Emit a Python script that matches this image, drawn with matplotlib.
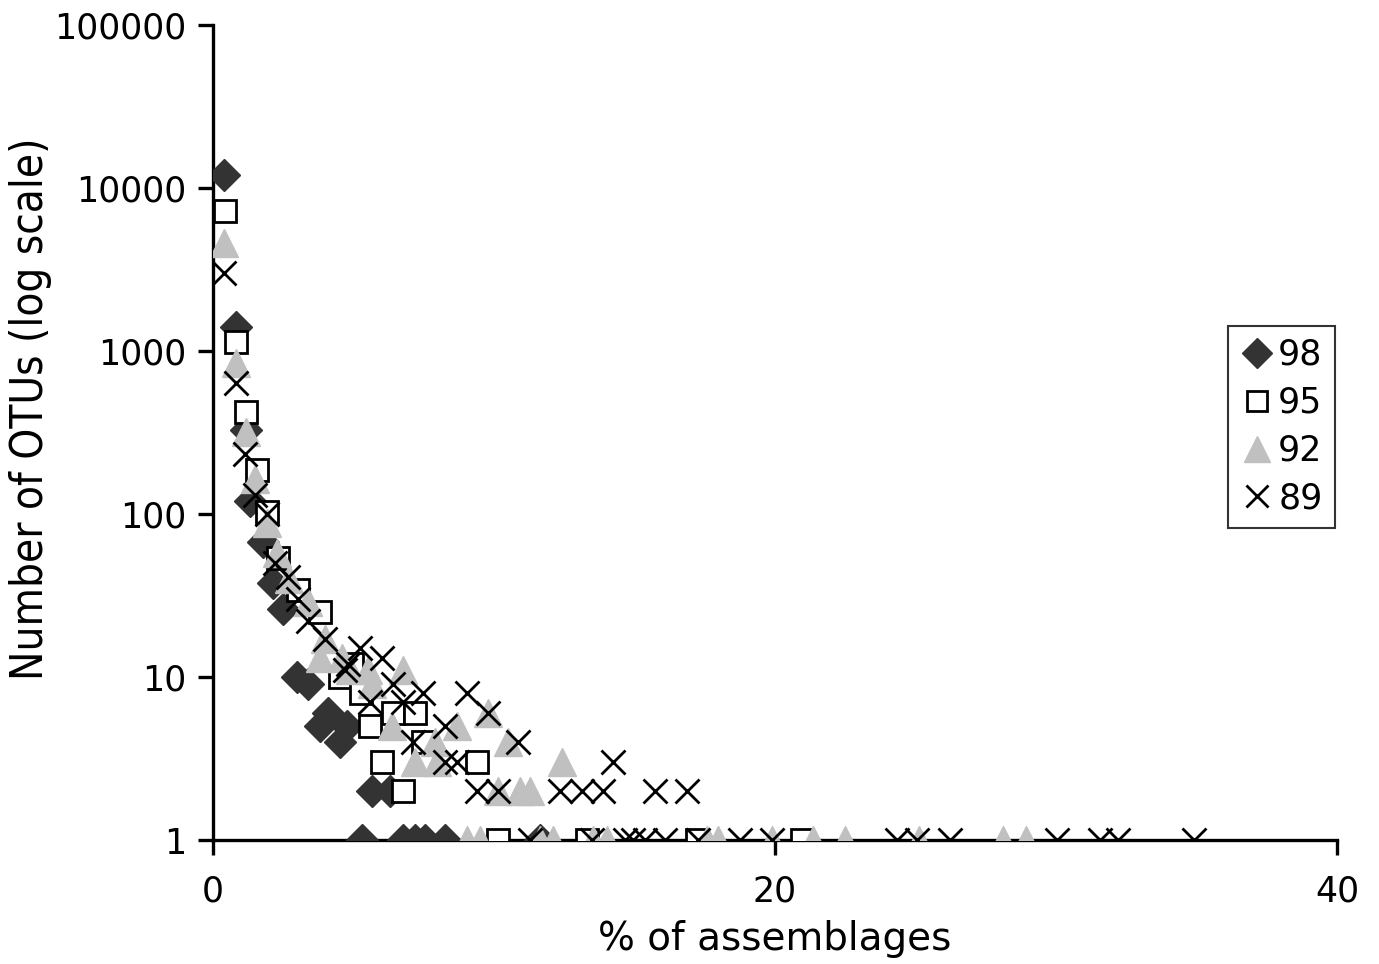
import matplotlib
matplotlib.use("Agg")
import matplotlib.pyplot as plt
from matplotlib import font_manager
from matplotlib.ticker import FixedLocator, NullLocator

# % of assemblages (x) and number of OTUs (y) per similarity cutoff
x_98 = [0.39, 0.82, 1.17, 1.32, 1.78, 2.14, 2.49, 2.99, 3.38, 3.81, 4.09, 4.52, 4.77,
        5.66, 6.30, 5.30, 6.76, 7.19, 7.54, 8.26, 11.64]
y_98 = [12000, 1400, 330, 120, 67, 38, 26, 10, 9, 5, 6, 4, 5,
        2, 2, 1, 1, 1, 1, 1, 1]

x_95 = [0.43, 0.82, 1.17, 1.57, 1.92, 2.31, 3.02, 3.81, 4.52, 4.95, 5.25, 5.59, 6.41,
        7.19, 6.01, 6.76, 7.47, 9.40, 10.14, 13.31, 17.22, 20.96]
y_95 = [7200, 1140, 420, 185, 103, 54, 34, 25, 10, 12, 8, 5, 6,
        6, 3, 2, 4, 3, 1, 1, 1, 1]

x_92 = [0.39, 0.82, 1.17, 1.50, 1.92, 2.28, 2.70, 3.38, 3.99, 3.81, 4.60, 4.88, 5.52,
        6.76, 5.66, 6.37, 7.90, 8.68, 9.79, 10.50, 12.42, 7.19, 7.97, 10.14, 10.93,
        11.28, 9.04, 9.50, 11.64, 12.10, 13.52, 14.02, 17.58, 17.97, 19.89, 21.35,
        22.49, 25.12, 28.11, 28.93]
y_92 = [4600, 840, 320, 165, 88, 58, 40, 29, 17, 13, 13, 11, 11,
        11, 9, 5, 4, 5, 6, 4, 3, 3, 3, 2, 2,
        2, 1, 1, 1, 1, 1, 1, 1, 1, 1, 1,
        1, 1, 1, 1]

x_89 = [0.39, 0.82, 1.14, 1.49, 1.92, 2.21, 2.67, 3.02, 3.38, 3.99, 4.70, 4.80, 5.23,
        6.01, 6.41, 5.59, 7.47, 6.76, 9.04, 9.79, 8.26, 7.12, 10.85, 8.26, 8.68,
        14.23, 9.40, 10.14, 12.35, 13.13, 13.88, 15.73, 16.87,
        11.28, 13.49, 14.66, 14.95, 15.37, 16.09, 17.26, 18.75, 19.89, 24.34,
        25.05, 26.23, 30.04, 31.57, 32.21, 34.91]
y_89 = [3000, 640, 235, 130, 100, 50, 41, 30, 22, 17, 11, 12, 15,
        13, 9, 7, 8, 7, 8, 6, 5, 4, 4, 3, 3,
        3, 2, 2, 2, 2, 2, 2, 2,
        1, 1, 1, 1, 1, 1, 1, 1, 1, 1,
        1, 1, 1, 1, 1, 1]

x_ticks = [0, 20, 40]
y_ticks = [1, 10, 100, 1000, 10000, 100000]
y_tick_labels = ["1", "10", "100", "1000", "10000", "100000"]

plt.rcParams['font.family'] = ['DejaVu Sans']

# the y label in the original is set in a narrow face; use one if installed
ylabel_font = dict(family="DejaVu Sans", fontsize=26)
for f in font_manager.fontManager.ttflist:
    if ("Condensed" in f.name or "Narrow" in f.name or f.stretch == "condensed") \
            and f.weight in (400, "normal", "regular") and f.style == "normal":
        ylabel_font = dict(fname=f.fname, size=31.5)
        break

fig = plt.figure(figsize=(13.79, 9.64), dpi=100)
ax = fig.add_axes([0.1545, 0.1286, 0.815, 0.8454])

ax.plot(x_98, y_98, linestyle='none', marker='D', ms=16, color='#333333',
        mec='#333333', label='98', zorder=3)
ax.plot(x_95, y_95, linestyle='none', marker='s', ms=15.5, mfc='white', mec='black',
        mew=2, label='95', zorder=4)
ax.plot(x_92, y_92, linestyle='none', marker='^', ms=20, color='#c0c0c0',
        mec='#c0c0c0', label='92', zorder=5)
ax.plot(x_89, y_89, linestyle='none', marker='x', ms=17, mew=2, color='black',
        label='89', zorder=6)

ax.set_yscale('log')
ax.set_xlim(0, 40)
ax.set_ylim(1, 100000)
ax.yaxis.set_major_locator(FixedLocator(y_ticks))
ax.yaxis.set_minor_locator(NullLocator())
ax.set_yticklabels(y_tick_labels)
ax.set_xticks(x_ticks)

for side in ['top', 'right']:
    ax.spines[side].set_visible(False)
for side in ['left', 'bottom']:
    ax.spines[side].set_linewidth(2.4)
    ax.spines[side].set_zorder(2)

ax.tick_params(axis='both', direction='out', length=11, width=2.4, labelsize=25, pad=8)
ax.tick_params(axis='x', pad=14)

ax.set_xlabel("% of assemblages", fontsize=28, labelpad=8)
if "fname" in ylabel_font:
    ax.set_ylabel("Number of OTUs (log scale)",
                  fontproperties=font_manager.FontProperties(**ylabel_font))
else:
    ax.set_ylabel("Number of OTUs (log scale)", **ylabel_font)
ax.yaxis.set_label_coords(-0.143, 0.529)

leg = ax.legend(loc='upper right', bbox_to_anchor=(0.998, 0.631), fontsize=25,
                frameon=True, fancybox=False, edgecolor='black', handletextpad=0.1,
                handlelength=1.0, borderpad=0.35, labelspacing=0.4, borderaxespad=0)
leg.get_frame().set_linewidth(1.5)
for h in leg.legend_handles:
    h.set_markersize(h.get_markersize() * 0.95)

fig.savefig("out.png", dpi=100)
